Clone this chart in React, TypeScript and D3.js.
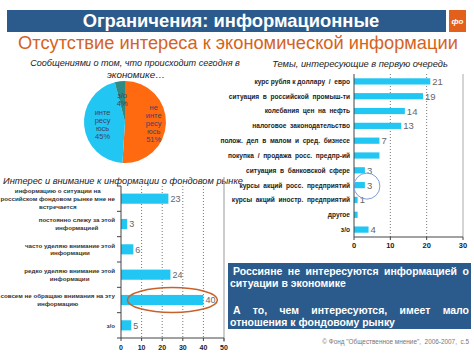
import React, { useEffect, useRef } from "react";
import * as d3 from "d3";

// ---------- DATA ----------
const headerTitle = "Ограничения: информационные";
const subTitle = "Отсутствие интереса к экономической информации";

const pieTitle = ["Сообщениями о том, что происходит сегодня в", "экономике…"];
const pieCategories = ["не интересуюсь", "интересуюсь", "з/о"];
const pieValues = [51, 45, 4];
const pieLabelLines = [
  ["не", "инте", "ресу", "юсь", "51%"],
  ["инте", "ресу", "юсь", "45%"],
  ["з/о", "4%"],
];

const topicTitle = "Темы, интересующие в  первую очередь";
const topicCategories = [
  "курс рубля к доллару  /  евро",
  "ситуация  в  российской  промыш-ти",
  "колебания  цен  на  нефть",
  "налоговое  законодательство",
  "полож.  дел  в  малом  и  сред.  бизнесе",
  "покупка  /  продажа  росс.  предпр-ий",
  "ситуация  в  банковской  сфере",
  "курсы  акций  росс.  предприятий",
  "курсы  акций  иностр.  предприятий",
  "другое",
  "з/о",
];
const topicValues = [21, 19, 14, 13, 7, 7, 3, 3, 1, 1, 4];
const topicShowValue = [true, true, true, true, true, false, true, true, true, false, true];
const topicTicks = [0, 10, 20, 30];

const stockTitle = "Интерес и внимание к информации о фондовом рынке";
const stockCategories = [
  ["информацию о ситуации на", "российском фондовом рынке мне не", "встречается"],
  ["постоянно слежу за этой", "информацией"],
  ["часто уделяю внимание этой", "информации"],
  ["редко уделяю внимание этой", "информации"],
  ["совсем не обращаю внимания на эту", "информацию"],
  ["з/о"],
];
const stockValues = [23, 3, 6, 24, 40, 5];
const stockTicks = [0, 10, 20, 30, 40, 50];

const boxLines = [
  { words: ["Россияне", "не", "интересуются", "информацией", "о"], justify: true, indent: true },
  { words: ["ситуации", "в", "экономике"], justify: false, indent: false },
  { words: ["А", "то,", "чем", "интересуются,", "имеет", "мало"], justify: true, indent: true },
  { words: ["отношения", "к", "фондовому", "рынку"], justify: false, indent: false },
];
const footer = "© Фонд \"Общественное мнение\",  2006-2007,  с.5";

// ---------- STYLE ----------
const FONT = "'Liberation Sans', Arial, Helvetica, sans-serif";
const NAVY = "#2B5B8C";
const ORANGE = "#FF6A10";
const CYAN = "#22C6F2";
const TEAL = "#2E8A84";

export default function App() {
  const ref = useRef<SVGSVGElement | null>(null);

  useEffect(() => {
    const svg = d3.select(ref.current as SVGSVGElement);
    svg.selectAll("*").remove();
    svg.attr("font-family", FONT);

    const fit = (t: any, w: number) => {
      const len = (t.node() as SVGTextElement).getComputedTextLength();
      const fs = parseFloat(t.attr("font-size"));
      if (len > 0) t.attr("font-size", (fs * w) / len);
      return t;
    };

    // ---- header ----
    svg.append("rect").attr("x", 7).attr("y", 10).attr("width", 439).attr("height", 22).attr("fill", NAVY);
    fit(
      svg.append("text").attr("x", 231).attr("y", 27).attr("text-anchor", "middle")
        .attr("font-size", 16).attr("font-weight", "bold").attr("fill", "#fff").text(headerTitle),
      297
    );
    svg.append("rect").attr("x", 449).attr("y", 10).attr("width", 17).attr("height", 22).attr("fill", "#E2601B");
    svg.append("text").attr("x", 457.5).attr("y", 24).attr("text-anchor", "middle").attr("font-size", 8)
      .attr("font-weight", "bold").attr("font-style", "italic").attr("fill", "#fff").text("фо");

    fit(
      svg.append("text").attr("x", 238).attr("y", 49).attr("text-anchor", "middle")
        .attr("font-size", 17).attr("fill", "#D5631D").text(subTitle),
      440
    );

    // ---- pie ----
    fit(svg.append("text").attr("x", 135).attr("y", 66).attr("text-anchor", "middle").attr("font-size", 10)
      .attr("font-style", "italic").attr("fill", "#222").text(pieTitle[0]), 210);
    fit(svg.append("text").attr("x", 136).attr("y", 78).attr("text-anchor", "middle").attr("font-size", 10)
      .attr("font-style", "italic").attr("fill", "#222").text(pieTitle[1]), 58);

    const pcx = 125, pcy = 122, pr = 41;
    const pieColors = [ORANGE, CYAN, TEAL];
    const labelRad = [0.7, 0.55, 0.55];
    const arcs = d3.pie<number>().sort(null).value((d) => d)(pieValues);
    const arcGen = d3.arc<any>().innerRadius(0).outerRadius(pr);
    const pg = svg.append("g").attr("transform", `translate(${pcx},${pcy})`);
    pg.selectAll("path").data(arcs).join("path").attr("d", arcGen as any)
      .attr("fill", (_d, i) => pieColors[i]).attr("stroke", "none");
    arcs.forEach((a, i) => {
      const r = pr * labelRad[i];
      const c = d3.arc<any>().innerRadius(r).outerRadius(r).centroid(a as any);
      const lines = pieLabelLines[i];
      const lh = 8;
      lines.forEach((ln, j) => {
        pg.append("text").attr("x", c[0]).attr("y", c[1] - ((lines.length - 1) * lh) / 2 + j * lh + 2.8)
          .attr("text-anchor", "middle").attr("font-size", 7.5).attr("fill", "#3b4660").text(ln);
      });
    });

    // ---- topics chart ----
    fit(svg.append("text").attr("x", 360).attr("y", 67).attr("text-anchor", "middle").attr("font-size", 10)
      .attr("font-style", "italic").attr("fill", "#222").text(topicTitle), 176);

    const tx = d3.scaleLinear().domain([0, 30]).range([354, 463]);
    const ty = d3.scaleBand<string>().domain(topicCategories).range([74, 237]).paddingInner(0.58).paddingOuter(0.29);
    const tg = svg.append("g");
    topicTicks.slice(1, -1).forEach((t) => {
      tg.append("line").attr("x1", tx(t)).attr("x2", tx(t)).attr("y1", 74).attr("y2", 237)
        .attr("stroke", "#777").attr("stroke-dasharray", "1,2");
    });
    tg.append("line").attr("x1", tx(30)).attr("x2", tx(30)).attr("y1", 74).attr("y2", 237).attr("stroke", "#aaa");
    tg.selectAll("rect.bar").data(topicValues).join("rect").attr("class", "bar")
      .attr("x", tx(0)).attr("y", (_d, i) => ty(topicCategories[i]) as number)
      .attr("width", (d) => tx(d) - tx(0)).attr("height", ty.bandwidth()).attr("fill", CYAN);
    tg.append("line").attr("x1", tx(0)).attr("x2", tx(0)).attr("y1", 74).attr("y2", 237).attr("stroke", "#444");
    tg.append("line").attr("x1", tx(0)).attr("x2", tx(30)).attr("y1", 237).attr("y2", 237).attr("stroke", "#444");
    topicTicks.forEach((t) => {
      tg.append("line").attr("x1", tx(t)).attr("x2", tx(t)).attr("y1", 237).attr("y2", 240).attr("stroke", "#444");
      tg.append("text").attr("x", tx(t)).attr("y", 248).attr("text-anchor", "middle").attr("font-size", 7.5)
        .attr("font-weight", "bold").attr("fill", "#222").text(String(t));
    });
    topicCategories.forEach((c, i) => {
      const cy = (ty(c) as number) + ty.bandwidth() / 2;
      tg.append("text").attr("x", 350).attr("y", cy + 2.4).attr("text-anchor", "end").attr("font-size", 6.6)
        .attr("font-weight", "bold").attr("fill", "#222").attr("xml:space", "preserve").style("white-space", "pre").text(c);
      if (topicShowValue[i]) {
        tg.append("text").attr("x", tx(topicValues[i]) + 2).attr("y", cy + 3.5).attr("font-size", 9.5)
          .attr("fill", "#666").text(String(topicValues[i]));
      }
    });
    {
      const c = topicCategories[7];
      tg.append("circle").attr("cx", tx(topicValues[7]) + 2).attr("cy", (ty(c) as number) + ty.bandwidth() / 2 + 1)
        .attr("r", 13).attr("fill", "none").attr("stroke", "#7f9fd0").attr("stroke-width", 1);
    }

    // ---- stock market chart ----
    fit(svg.append("text").attr("x", 123).attr("y", 184).attr("text-anchor", "middle").attr("font-size", 10.5)
      .attr("font-style", "italic").attr("fill", "#222").text(stockTitle), 240);

    const idx = stockValues.map((_d, i) => String(i));
    const sx = d3.scaleLinear().domain([0, 50]).range([121, 224]);
    const sy = d3.scaleBand<string>().domain(idx).range([186, 338]).paddingInner(0.6).paddingOuter(0.3);
    const sg = svg.append("g");
    stockTicks.slice(1, -1).forEach((t) => {
      sg.append("line").attr("x1", sx(t)).attr("x2", sx(t)).attr("y1", 186).attr("y2", 338)
        .attr("stroke", "#777").attr("stroke-dasharray", "1,2");
    });
    sg.append("line").attr("x1", 224).attr("x2", 224).attr("y1", 177).attr("y2", 342).attr("stroke", "#999");
    sg.selectAll("rect.bar").data(stockValues).join("rect").attr("class", "bar")
      .attr("x", sx(0)).attr("y", (_d, i) => sy(String(i)) as number)
      .attr("width", (d) => sx(d) - sx(0)).attr("height", sy.bandwidth()).attr("fill", CYAN);
    sg.append("line").attr("x1", sx(0)).attr("x2", sx(0)).attr("y1", 186).attr("y2", 338).attr("stroke", "#444");
    sg.append("line").attr("x1", sx(0)).attr("x2", sx(50)).attr("y1", 338).attr("y2", 338).attr("stroke", "#444");
    const step = sy.step();
    for (let i = 0; i <= stockValues.length; i++) {
      const yy = 186 + i * step;
      sg.append("line").attr("x1", sx(0) - 4).attr("x2", sx(0)).attr("y1", yy).attr("y2", yy).attr("stroke", "#444");
    }
    stockTicks.forEach((t) => {
      sg.append("line").attr("x1", sx(t)).attr("x2", sx(t)).attr("y1", 338).attr("y2", 341).attr("stroke", "#444");
      sg.append("text").attr("x", sx(t)).attr("y", 350).attr("text-anchor", "middle").attr("font-size", 7)
        .attr("font-weight", "bold").attr("fill", "#222").text(String(t));
    });
    stockCategories.forEach((lines, i) => {
      const cy = (sy(String(i)) as number) + sy.bandwidth() / 2;
      const lh = 7.7;
      const nodes = lines.map((ln, j) =>
        sg.append("text").attr("y", cy - ((lines.length - 1) * lh) / 2 + j * lh + 2.2)
          .attr("text-anchor", "middle").attr("font-size", 6.2).attr("font-weight", "bold").attr("fill", "#333").text(ln)
      );
      const maxw = d3.max(nodes, (n) => (n.node() as SVGTextElement).getComputedTextLength()) || 0;
      nodes.forEach((n) => n.attr("x", 115 - maxw / 2));
      sg.append("text").attr("x", sx(stockValues[i]) + 2).attr("y", cy + 3.3).attr("font-size", 9)
        .attr("fill", "#666").text(String(stockValues[i]));
    });
    {
      const cy = (sy("4") as number) + sy.bandwidth() / 2;
      sg.append("ellipse").attr("cx", sx(stockValues[4]) - 31).attr("cy", cy).attr("rx", 45).attr("ry", 12.5)
        .attr("fill", "none").attr("stroke", "#C8622A").attr("stroke-width", 1.5);
    }

    // ---- text box ----
    svg.append("rect").attr("x", 228).attr("y", 263).attr("width", 243).attr("height", 66).attr("fill", NAVY);
    const probe = fit(svg.append("text").attr("font-size", 10).attr("font-weight", "bold").text(boxLines[3].words.join(" ")), 165);
    const bfs = parseFloat(probe.attr("font-size"));
    probe.remove();
    const baselines = [275, 287, 314, 326];
    boxLines.forEach((ln, li) => {
      const x0 = ln.indent ? 233 : 230;
      const x1 = 469;
      const texts = ln.words.map((w) =>
        svg.append("text").attr("y", baselines[li]).attr("font-size", bfs).attr("font-weight", "bold").attr("fill", "#fff").text(w)
      );
      const widths = texts.map((t) => (t.node() as SVGTextElement).getComputedTextLength());
      const sum = d3.sum(widths);
      const spaceW = bfs * 0.28;
      const gap = ln.justify && ln.words.length > 1 ? (x1 - x0 - sum) / (ln.words.length - 1) : spaceW;
      let x = x0;
      texts.forEach((t, k) => {
        t.attr("x", x);
        x += widths[k] + gap;
      });
    });

    // ---- footer ----
    fit(svg.append("text").attr("x", 469).attr("y", 344).attr("text-anchor", "end").attr("font-size", 8)
      .attr("fill", "#777").attr("xml:space", "preserve").style("white-space", "pre").text(footer), 147);
  }, []);

  return (
    <svg
      ref={ref}
      width={474}
      height={355}
      viewBox="0 0 474 355"
      style={{ position: "absolute", left: 0, top: 0, background: "#fff" }}
    />
  );
}
